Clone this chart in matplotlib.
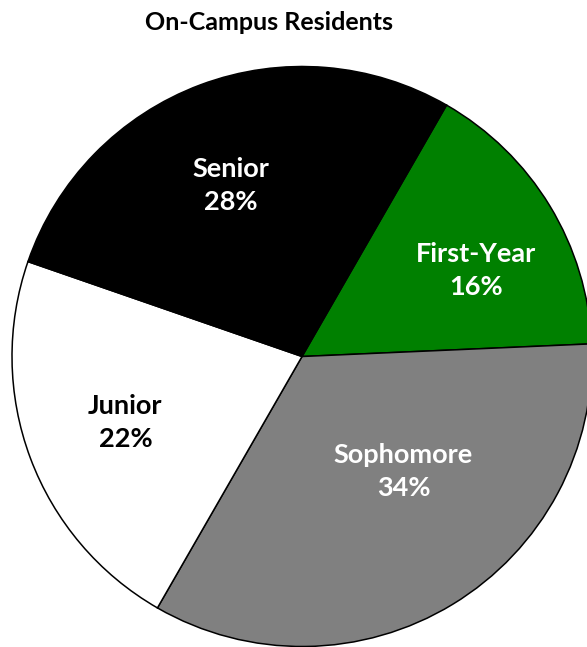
import numpy as np
import matplotlib
matplotlib.use("Agg")
import matplotlib.pyplot as plt

# data
categories = ["First-Year", "Sophomore", "Junior", "Senior"]
shares = [16, 34, 22, 28]

colors = ["#008000", "#808080", "#ffffff", "#000000"]
text_colors = ["white", "white", "black", "white"]

plt.rcParams["font.family"] = ["Lato", "DejaVu Sans"]

fig = plt.figure(figsize=(5.87, 6.47), dpi=100)
ax = fig.add_axes([0, 0, 1, 1])

wedges, _ = ax.pie(shares, colors=colors, startangle=60.1, counterclock=False,
                   wedgeprops=dict(edgecolor="black", linewidth=1.1))

# label placement: radius and angle shift (deg) per slice
label_r = [0.67, 0.53, 0.65, 0.64]
label_shift = [-5, 10, 0, 2]
for w, name, pct, tc, r, sh in zip(wedges, categories, shares, text_colors,
                                   label_r, label_shift):
    mid = np.deg2rad((w.theta1 + w.theta2) / 2 + sh)
    ax.text(r * np.cos(mid), r * np.sin(mid), "%s\n%d%%" % (name, pct),
            ha="center", va="center", color=tc, fontsize=19.5,
            fontweight="bold", linespacing=1.45)

# pie is bigger than the canvas; it gets clipped right and bottom
px = 290.0
cx, cy = 302.0, 290.5
ax.set_xlim(-cx / px, (587 - cx) / px)
ax.set_ylim(-cy / px, (647 - cy) / px)
ax.set_aspect("auto")
ax.axis("off")

fig.text(0.458, 1 - 22 / 647.0, "On-Campus Residents", ha="center", va="center",
         fontsize=18, fontweight="bold")

fig.savefig("out.png", dpi=100)
